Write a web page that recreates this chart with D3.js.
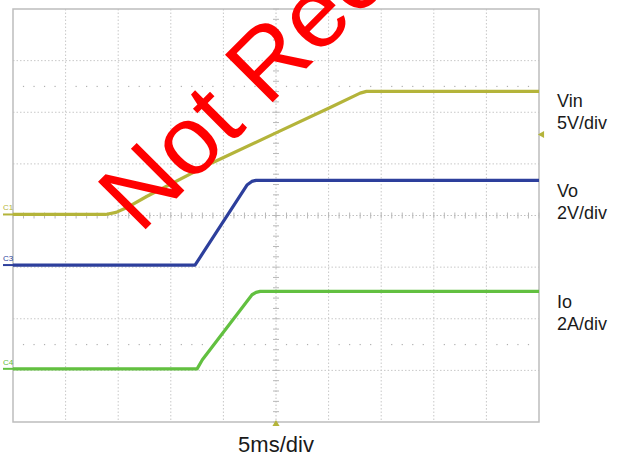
<!DOCTYPE html>
<meta charset="utf-8">
<script src="https://d3js.org/d3.v7.min.js"></script>
<style>
  body { margin: 0; background: #fff; }
  text { font-family: "Liberation Sans", Arial, sans-serif; }
</style>
<div id="scope"></div>
<script>
// time in ms (5 ms/div, trigger at centre)
var vinTime = [-25, -16.2, -15.2, -14.0, -12.3, -6.0, 0.1, 5.1, 8.0, 8.6, 25];
var vinVolts = [0, 0, 0.2, 0.75, 1.74, 5.04, 7.95, 10.33, 11.75, 11.92, 11.92];

var voTime = [-25, -7.7, -7.2, -2.76, -2.3, -1.9, 25];
var voVolts = [0, 0, 0.31, 3.1, 3.24, 3.28, 3.28];

var ioTime = [-25, -7.5, -7.0, -2.28, -1.9, -1.5, 25];
var ioAmps = [0, 0, 0.35, 2.87, 2.96, 3.0, 3.0];

var channelNames = ["C1", "C3", "C4"];
var labelLines = [["Vin", "5V/div"], ["Vo", "2V/div"], ["Io", "2A/div"]];
var perDiv = [5, 2, 2];          // units per division
var offsetDiv = [0.02, -0.96, -2.97];
var colors = ["#b4b43a", "#2d3f9c", "#62c040"];
var timeLabel = "5ms/div";

var W = 625, H = 456;
var box = {left: 13, top: 9, right: 539, bottom: 422};

var x = d3.scaleLinear().domain([-25, 25]).range([box.left, box.right]);
var y = d3.scaleLinear().domain([-4, 4]).range([box.bottom, box.top]);

var svg = d3.select("#scope").append("svg")
  .attr("width", W).attr("height", H);

// graticule
var grid = svg.append("g");
grid.selectAll(".vx").data(d3.range(-20, 25, 5).filter(function(d) { return d != 0; }))
  .enter().append("line")
    .attr("x1", x).attr("x2", x)
    .attr("y1", box.top).attr("y2", box.bottom)
    .attr("stroke", "#c8c8c8").attr("stroke-dasharray", "1.5,2");
grid.selectAll(".hy").data([-3, -2, -1, 1, 2, 3])
  .enter().append("line")
    .attr("y1", y).attr("y2", y)
    .attr("x1", box.left).attr("x2", box.right)
    .attr("stroke", "#c8c8c8").attr("stroke-dasharray", "1.5,2");

// centre axes
grid.append("line").attr("x1", x(0)).attr("x2", x(0)).attr("y1", box.top).attr("y2", box.bottom)
  .attr("stroke", "#c0c0c0").attr("stroke-dasharray", "1.5,2");
grid.append("line").attr("y1", y(0)).attr("y2", y(0)).attr("x1", box.left).attr("x2", box.right)
  .attr("stroke", "#c0c0c0").attr("stroke-dasharray", "1.5,2");
grid.selectAll(".tx").data(d3.range(-25, 25.01, 1))
  .enter().append("line")
    .attr("x1", x).attr("x2", x)
    .attr("y1", y(0) - 3).attr("y2", y(0) + 3)
    .attr("stroke", "#b8b8b8");
grid.selectAll(".ty").data(d3.range(-4, 4.01, 0.2))
  .enter().append("line")
    .attr("y1", y).attr("y2", y)
    .attr("x1", x(0) - 3).attr("x2", x(0) + 3)
    .attr("stroke", "#b8b8b8");

// dotted rows at +-2.5 div
[2.5, -2.5].forEach(function(r) {
  grid.selectAll(null).data(d3.range(-24, 25, 1).filter(function(d) { return d % 5 != 0; }))
    .enter().append("rect")
      .attr("x", function(d) { return x(d) - 0.6; })
      .attr("y", y(r) - 0.6)
      .attr("width", 1.2).attr("height", 1.2)
      .attr("fill", "#b0b0b0");
});

svg.append("rect")
  .attr("x", box.left).attr("y", box.top)
  .attr("width", box.right - box.left).attr("height", box.bottom - box.top)
  .attr("fill", "none").attr("stroke", "#bdbdbd").attr("stroke-width", 1.5);

// traces
var series = [
  {t: vinTime, v: vinVolts},
  {t: voTime, v: voVolts},
  {t: ioTime, v: ioAmps}
];

series.forEach(function(s, i) {
  var pts = s.t.map(function(t, k) { return [t, s.v[k] / perDiv[i] + offsetDiv[i]]; });
  var line = d3.line()
    .x(function(d) { return x(d[0]); })
    .y(function(d) { return y(d[1]); });
  svg.append("path")
    .datum(pts)
    .attr("d", line)
    .attr("fill", "none")
    .attr("stroke", colors[i])
    .attr("stroke-width", 3.2)
    .attr("stroke-linejoin", "round");

  // ground marker + channel name
  svg.append("line")
    .attr("x1", 3).attr("x2", box.left)
    .attr("y1", y(offsetDiv[i])).attr("y2", y(offsetDiv[i]))
    .attr("stroke", colors[i]).attr("stroke-width", 2);
  svg.append("text")
    .attr("x", 3).attr("y", y(offsetDiv[i]) - 4)
    .attr("font-size", 8).attr("fill", colors[i])
    .text(channelNames[i]);

  // right-hand labels
  var lab = svg.append("text")
    .attr("x", 557)
    .attr("y", y(offsetDiv[i]) - [107, 68, 61][i])
    .attr("font-size", 18).attr("fill", "#1a1a1a");
  lab.selectAll("tspan").data(labelLines[i]).enter().append("tspan")
    .attr("x", 557)
    .attr("dy", function(d, k) { return k == 0 ? 0 : 22; })
    .text(function(d) { return d; });
});

// trigger markers
svg.append("path")
  .attr("d", d3.symbol().type(d3.symbolTriangle).size(22))
  .attr("transform", "translate(" + (box.right + 3) + "," + (y(0) - 81) + ") rotate(-90)")
  .attr("fill", colors[0]);
svg.append("path")
  .attr("d", d3.symbol().type(d3.symbolTriangle).size(22))
  .attr("transform", "translate(" + x(0) + "," + (box.bottom + 2) + ")")
  .attr("fill", colors[0]);

svg.append("text")
  .attr("x", x(0)).attr("y", 452)
  .attr("text-anchor", "middle")
  .attr("font-size", 22).attr("fill", "#1a1a1a")
  .text(timeLabel);

// watermark
svg.append("text")
  .attr("transform", "translate(140,235) rotate(-45)")
  .attr("font-size", 98).attr("fill", "#ff0000")
  .text("Not Recommended");
</script>
